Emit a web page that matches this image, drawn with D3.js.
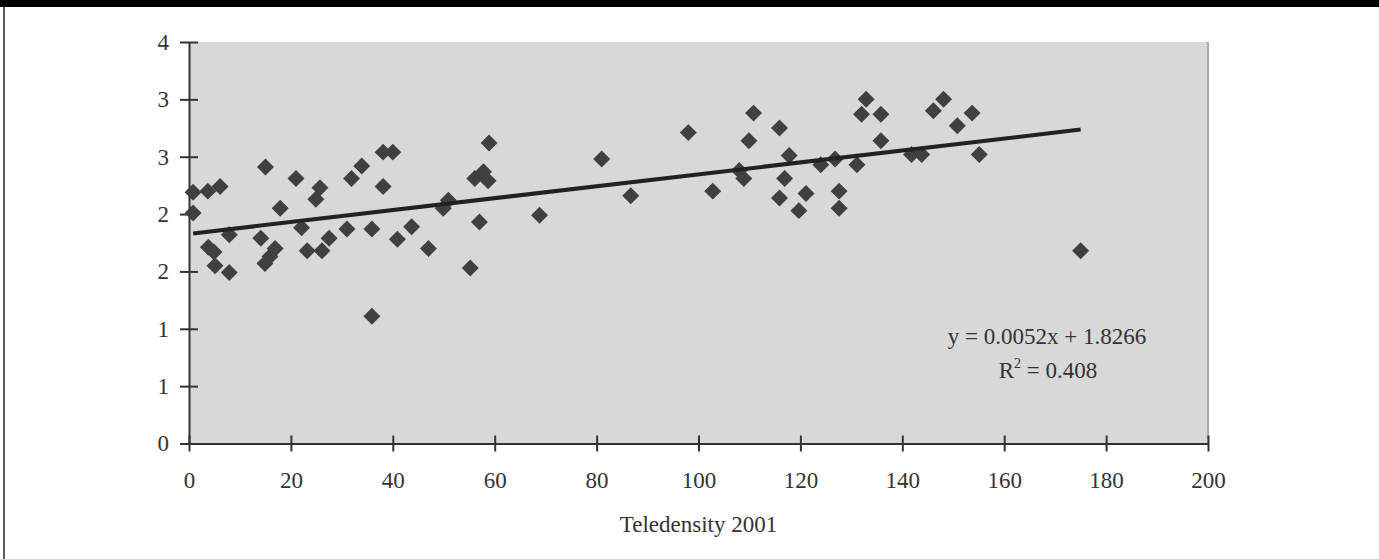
<!DOCTYPE html>
<html>
<head>
<meta charset="utf-8">
<script src="https://cdn.jsdelivr.net/npm/d3@7/dist/d3.min.js"></script>
<style>
  body { margin: 0; background: #fff; }
  .chart text { font-family: "Liberation Serif", "Times New Roman", serif; fill: #333; }
</style>
</head>
<body>
<div class="chart"></div>
<script>
// teledensity 2001 (x) and index (y)
const teledensity = [0.8, 0.8, 3.7, 6.1, 3.8, 4.9, 5.1, 7.9, 7.9, 15.0,
  14.1, 16.9, 15.9, 14.9, 17.9, 21.0, 22.1, 24.9, 25.7, 23.2,
  26.1, 27.5, 31.0, 31.9, 33.9, 38.1, 40.0, 38.1, 35.9, 35.9,
  40.9, 43.7, 47.0, 49.9, 50.9, 55.2, 57.0, 56.1, 57.8, 58.7,
  58.9, 68.8, 81.0, 86.7, 98.0, 102.8, 110.8, 115.9, 109.9, 117.8,
  108.0, 108.9, 116.9, 115.9, 121.1, 119.7, 124.0, 126.8, 127.6, 127.6,
  131.1, 132.9, 132.0, 135.8, 135.8, 141.8, 143.8, 148.1, 146.1, 150.8,
  153.7, 155.1, 175.0]
const indexValues = [2.19, 2.01, 2.20, 2.24, 1.71, 1.67, 1.55, 1.82, 1.49, 2.41,
  1.79, 1.70, 1.63, 1.57, 2.05, 2.31, 1.88, 2.13, 2.23, 1.68,
  1.68, 1.79, 1.87, 2.31, 2.42, 2.54, 2.54, 2.24, 1.87, 1.11,
  1.78, 1.89, 1.70, 2.05, 2.12, 1.53, 1.93, 2.31, 2.37, 2.29,
  2.62, 1.99, 2.48, 2.16, 2.71, 2.20, 2.88, 2.75, 2.64, 2.51,
  2.38, 2.31, 2.31, 2.14, 2.18, 2.03, 2.43, 2.48, 2.20, 2.05,
  2.43, 3.00, 2.87, 2.87, 2.64, 2.52, 2.52, 3.00, 2.90, 2.77,
  2.88, 2.52, 1.68]

const xTicks = [0, 20, 40, 60, 80, 100, 120, 140, 160, 180, 200]
const yTicks = [0, 0.5, 1, 1.5, 2, 2.5, 3, 3.5]
const yTickLabels = ["0", "1", "1", "2", "2", "3", "3", "4"]

// linear trend as printed on the chart
const slope = 0.0052
const intercept = 1.8266
const rSquared = "0.408"

const width = 1379
const height = 559
const margin = { top: 42, right: 171, bottom: 116, left: 189 }

const points = teledensity.map((t, i) => ({ x: t, y: indexValues[i] }))

let svg = d3.select(".chart")
  .append("svg")
  .attr("width", width)
  .attr("height", height)

// page frame: black band on top, thin rule on the left
svg.append("rect")
  .attr("x", 0).attr("y", 0)
  .attr("width", width).attr("height", 7)
  .attr("fill", "#000")
svg.append("line")
  .attr("x1", 4).attr("x2", 4)
  .attr("y1", 7).attr("y2", height)
  .attr("stroke", "#222")
  .attr("stroke-width", 1.5)

const xscale = d3.scaleLinear()
  .domain([0, 200])
  .range([margin.left, width - margin.right])

const yscale = d3.scaleLinear()
  .domain([0, 3.5])
  .range([height - margin.bottom + 0.5, margin.top])

// plot area
svg.append("rect")
  .attr("x", xscale(0))
  .attr("y", yscale(3.5))
  .attr("width", xscale(200) - xscale(0))
  .attr("height", yscale(0) - yscale(3.5))
  .attr("fill", "#d8d8d8")
svg.append("line")
  .attr("x1", xscale(200)).attr("x2", xscale(200))
  .attr("y1", yscale(3.5)).attr("y2", yscale(0))
  .attr("stroke", "#a8a8a8")
  .attr("stroke-width", 2)

// x axis, ticks crossing the line
const x_axis = d3.axisBottom(xscale)
  .tickValues(xTicks)
  .tickSizeInner(8)
  .tickSizeOuter(0)
  .tickPadding(20)
  .tickFormat(d3.format("d"))

let gx = svg.append("g")
  .attr("class", "x-axis")
  .attr("transform", "translate(0," + yscale(0) + ")")
  .call(x_axis)
gx.selectAll(".tick line").attr("y1", -8).attr("y2", 8)

// y axis
const y_axis = d3.axisLeft(yscale)
  .tickValues(yTicks)
  .tickSizeInner(9)
  .tickSizeOuter(0)
  .tickPadding(11)
  .tickFormat((d, i) => yTickLabels[i])

let gy = svg.append("g")
  .attr("class", "y-axis")
  .attr("transform", "translate(" + xscale(0) + ",0)")
  .call(y_axis)
gy.selectAll(".tick line").attr("x1", -9).attr("x2", 9)

svg.selectAll(".x-axis, .y-axis").selectAll("path, line")
  .attr("stroke", "#333")
  .attr("stroke-width", 2)
svg.selectAll(".x-axis text, .y-axis text")
  .attr("font-size", 23)
  .attr("fill", "#333")

// markers
const diamond = d3.symbol().type(d3.symbolSquare).size(144)
svg.append("g")
  .attr("class", "node-layer")
  .selectAll("path")
  .data(points)
  .join("path")
  .attr("d", diamond)
  .attr("transform", d => "translate(" + xscale(d.x) + "," + yscale(d.y) + ") rotate(45)")
  .attr("fill", "#404040")

// trend line across the data range
const xExtent = d3.extent(teledensity)
svg.append("line")
  .attr("x1", xscale(xExtent[0]))
  .attr("y1", yscale(slope * xExtent[0] + intercept))
  .attr("x2", xscale(xExtent[1]))
  .attr("y2", yscale(slope * xExtent[1] + intercept))
  .attr("stroke", "#222")
  .attr("stroke-width", 4)

// equation label
const eq = svg.append("g")
  .attr("font-size", 23)
  .attr("text-anchor", "middle")
eq.append("text")
  .attr("x", 1047)
  .attr("y", 344)
  .text("y = " + slope.toFixed(4) + "x + " + intercept.toFixed(4))
let r2 = eq.append("text")
  .attr("x", 1048)
  .attr("y", 378)
r2.append("tspan").text("R")
r2.append("tspan").attr("font-size", 14).attr("dy", -10).text("2")
r2.append("tspan").attr("dy", 10).text(" = " + rSquared)

// x axis title
svg.append("text")
  .attr("x", (xscale(0) + xscale(200)) / 2)
  .attr("y", 532)
  .attr("text-anchor", "middle")
  .attr("font-size", 23)
  .text("Teledensity 2001")
</script>
</body>
</html>
